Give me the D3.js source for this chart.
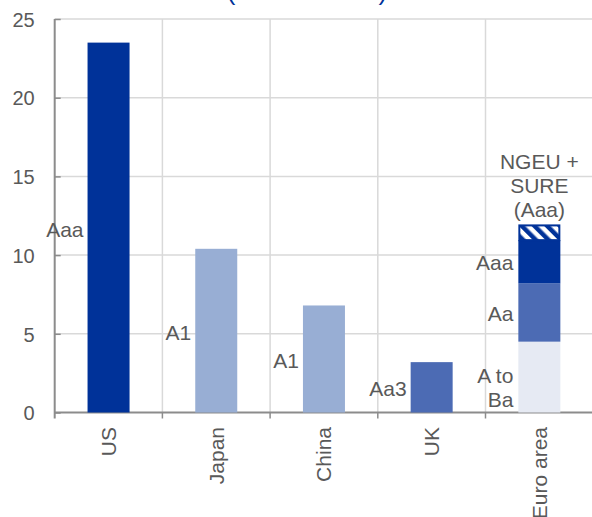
<!DOCTYPE html>
<html>
<head>
<meta charset="utf-8">
<script src="https://cdn.jsdelivr.net/npm/d3@7"></script>
<style>
  html, body { margin: 0; padding: 0; background: #fff; }
  svg { display: block; font-family: "Liberation Sans", Arial, sans-serif; }
</style>
</head>
<body>
<svg id="chart" width="592" height="517"></svg>
<script>
// Outstanding sovereign debt by rating
const categories = ["US", "Japan", "China", "UK", "Euro area"];

// Single-bar countries: value and rating label
const countryValues = [23.5, 10.4, 6.8, 3.2, null];
const countryRatings = ["Aaa", "A1", "A1", "Aa3", null];
const countryShade = ["dark", "light", "light", "medium", null];

// Euro area stack (bottom to top)
const euroSegments = ["A to Ba", "Aa", "Aaa", "NGEU + SURE (Aaa)"];
const euroValues = [4.5, 3.7, 2.75, 1.0];
const euroShade = ["pale", "medium", "dark", "hatch"];

const yTicks = [0, 5, 10, 15, 20, 25];
const titleText = "(USD trillions)";

const colors = {
  dark: "#003299",
  medium: "#4C6BB4",
  light: "#98AED4",
  pale: "#E6EAF3",
  text: "#595959",
  axis: "#8C8C8C",
  grid: "#D9D9D9"
};

const svg = d3.select("#chart");
const plotLeft = 54.7, plotRight = 593.2, plotTop = 19, plotBottom = 412.5;
const labelSize = 21;

// hatch pattern for the NGEU + SURE block
const defs = svg.append("defs");
const pat = defs.append("pattern")
  .attr("id", "hatch")
  .attr("patternUnits", "userSpaceOnUse")
  .attr("width", 9).attr("height", 9)
  .attr("patternTransform", "rotate(-45)");
pat.append("rect").attr("width", 9).attr("height", 9).attr("fill", "#fff");
pat.append("rect").attr("x", 0).attr("width", 4.5).attr("height", 9).attr("fill", colors.dark);

const x = d3.scaleBand().domain(categories).range([plotLeft, plotRight]).paddingInner(0).paddingOuter(0);
const y = d3.scaleLinear().domain([0, 25]).range([plotBottom, plotTop]);
const barW = x.bandwidth() * 0.39;

// title line (mostly above the visible area)
svg.append("text")
  .attr("x", 307).attr("y", 0)
  .attr("text-anchor", "middle")
  .attr("font-size", 26)
  .attr("fill", colors.dark)
  .text(titleText);

// horizontal gridlines
svg.append("g").selectAll("line")
  .data(yTicks.filter(d => d > 0))
  .join("line")
  .attr("x1", plotLeft).attr("x2", plotRight)
  .attr("y1", d => y(d)).attr("y2", d => y(d))
  .attr("stroke", colors.grid).attr("stroke-width", 1.5);

// vertical gridlines at category boundaries
svg.append("g").selectAll("line")
  .data(categories.slice(1))
  .join("line")
  .attr("x1", d => x(d)).attr("x2", d => x(d))
  .attr("y1", plotTop).attr("y2", plotBottom)
  .attr("stroke", colors.grid).attr("stroke-width", 1.5);

// y axis
const yAxis = d3.axisLeft(y).tickValues(yTicks).tickSize(-6).tickPadding(20);
const gy = svg.append("g").attr("transform", `translate(${plotLeft},0)`).call(yAxis);
gy.select(".domain").remove();
gy.selectAll(".tick line").attr("stroke", colors.axis).attr("stroke-width", 1.5);
gy.selectAll(".tick text")
  .attr("fill", colors.text)
  .attr("font-size", 20)
  .attr("font-family", "Liberation Sans, Arial, sans-serif")
  .attr("dy", "0.36em");
svg.append("line")
  .attr("x1", plotLeft).attr("x2", plotLeft)
  .attr("y1", plotTop).attr("y2", plotBottom + 6)
  .attr("stroke", colors.axis).attr("stroke-width", 2);

// x axis baseline and boundary ticks
svg.append("line")
  .attr("x1", plotLeft).attr("x2", plotRight)
  .attr("y1", plotBottom).attr("y2", plotBottom)
  .attr("stroke", colors.axis).attr("stroke-width", 2);
svg.append("g").selectAll("line")
  .data(categories.slice(1))
  .join("line")
  .attr("x1", d => x(d)).attr("x2", d => x(d))
  .attr("y1", plotBottom).attr("y2", plotBottom + 6)
  .attr("stroke", colors.axis).attr("stroke-width", 1.5);

// category labels, rotated
svg.append("g").selectAll("text")
  .data(categories)
  .join("text")
  .attr("transform", d => `translate(${x(d) + x.bandwidth() / 2 + 7.5},427) rotate(-90)`)
  .attr("text-anchor", "end")
  .attr("font-size", labelSize)
  .attr("fill", colors.text)
  .text(d => d);

// single country bars
const single = categories.map((c, i) => ({ c, v: countryValues[i], r: countryRatings[i], s: countryShade[i] }))
  .filter(d => d.v !== null);

svg.append("g").selectAll("rect")
  .data(single)
  .join("rect")
  .attr("x", d => x(d.c) + (x.bandwidth() - barW) / 2)
  .attr("width", barW)
  .attr("y", d => y(d.v))
  .attr("height", d => y(0) - y(d.v))
  .attr("fill", d => colors[d.s]);

svg.append("g").selectAll("text")
  .data(single)
  .join("text")
  .attr("x", d => x(d.c) + (x.bandwidth() - barW) / 2 - 4)
  .attr("y", d => y(d.v / 2) + 9)
  .attr("text-anchor", "end")
  .attr("font-size", labelSize)
  .attr("fill", colors.text)
  .text(d => d.r);

// euro area stack
const euroX = x("Euro area") + (x.bandwidth() - barW) / 2;
let acc = 0;
const stack = euroSegments.map((name, i) => {
  const d = { name, y0: acc, y1: acc + euroValues[i], s: euroShade[i] };
  acc += euroValues[i];
  return d;
});

svg.append("g").selectAll("rect")
  .data(stack)
  .join("rect")
  .attr("x", d => d.s === "hatch" ? euroX + 1 : euroX)
  .attr("width", d => d.s === "hatch" ? barW - 2 : barW)
  .attr("y", d => d.s === "hatch" ? y(d.y1) + 1 : y(d.y1))
  .attr("height", d => d.s === "hatch" ? y(d.y0) - y(d.y1) - 1 : y(d.y0) - y(d.y1))
  .attr("fill", d => d.s === "hatch" ? "url(#hatch)" : colors[d.s])
  .attr("stroke", d => d.s === "hatch" ? colors.dark : "none")
  .attr("stroke-width", 2);

// labels beside the lower segments
const sideLabels = stack.filter(d => d.s !== "hatch");
sideLabels.forEach(d => {
  const lines = d.name === "A to Ba" ? ["A to", "Ba"] : [d.name];
  const t = svg.append("text")
    .attr("text-anchor", "end")
    .attr("font-size", labelSize)
    .attr("fill", colors.text);
  // multi-line labels sit on the floor of their segment
  const baseY = lines.length > 1
    ? y(d.y0) - 6 - (lines.length - 1) * 24
    : y((d.y0 + d.y1) / 2) + 8;
  lines.forEach((ln, k) => {
    t.append("tspan")
      .attr("x", euroX - 5)
      .attr("y", baseY + k * 24)
      .text(ln);
  });
});

// label above the hatched block
const topSeg = stack[stack.length - 1];
const topLines = ["NGEU +", "SURE", "(Aaa)"];
const tt = svg.append("text")
  .attr("text-anchor", "middle")
  .attr("font-size", labelSize)
  .attr("fill", colors.text);
topLines.forEach((ln, k) => {
  tt.append("tspan")
    .attr("x", euroX + barW / 2)
    .attr("y", y(topSeg.y1) - 55 + k * 24)
    .text(ln);
});
</script>
</body>
</html>
